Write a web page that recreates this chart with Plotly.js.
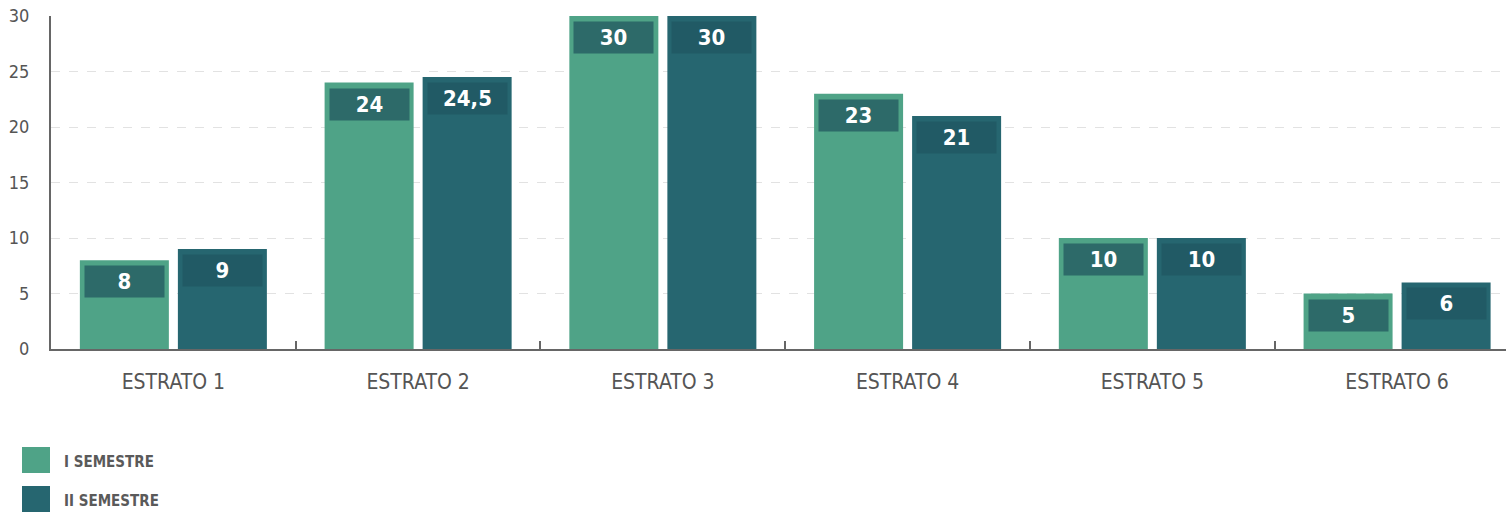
<!DOCTYPE html>
<html>
<head>
<meta charset="utf-8">
<script src="https://cdn.plot.ly/plotly-3.0.1.min.js"></script>
<style>html,body{margin:0;padding:0;background:#fff;}#chart{width:1506px;height:513px;}</style>
</head>
<body>
<div id="chart"></div>
<script>
const categories = ["ESTRATO 1", "ESTRATO 2", "ESTRATO 3", "ESTRATO 4", "ESTRATO 5", "ESTRATO 6"];
const semester1 = [8, 24, 30, 23, 10, 5];
const semester2 = [9, 24.5, 30, 21, 10, 6];
const seriesNames = ["I SEMESTRE", "II SEMESTRE"];
const yTicks = [0, 5, 10, 15, 20, 25, 30];

const FONT = '"DejaVu Sans Condensed", "Liberation Sans Narrow", sans-serif';
const colors = ["#4fa387", "#266670"];
const boxColors = ["#2d6a69", "#215a65"];
const fmt = v => String(v).replace('.', ',');

const traces = [semester1, semester2].map((vals, i) => ({
  type: 'bar', x: categories, y: vals, name: seriesNames[i],
  marker: {color: colors[i]}, showlegend: false, hoverinfo: 'x+y'
}));

const annotations = [];
[semester1, semester2].forEach((vals, i) => {
  vals.forEach((v, j) => {
    annotations.push({
      x: categories[j], y: v, xref: 'x', yref: 'y',
      xshift: i === 0 ? -49 : 49, yshift: -5,
      yanchor: 'top', xanchor: 'center',
      text: '<b>' + fmt(v) + '</b>', showarrow: false,
      bgcolor: boxColors[i], width: 79, height: 31, borderpad: 0,
      font: {family: FONT, size: 22, color: '#ffffff'}
    });
  });
});

// custom legend
const shapes = [];
seriesNames.forEach((n, i) => {
  const top = 447 + i * 39;
  shapes.push({type: 'rect', xref: 'paper', yref: 'paper',
    x0: (22 - 51) / 1455, x1: (50 - 51) / 1455,
    y0: (349 - top) / 333, y1: (349 - top - 26) / 333,
    fillcolor: colors[i], line: {width: 0}});
  annotations.push({xref: 'paper', yref: 'paper',
    x: (62 - 51) / 1455, y: (349 - top - 15) / 333,
    xanchor: 'left', yanchor: 'middle', showarrow: false,
    text: '<b>' + n + '</b>',
    font: {family: FONT, size: 15, color: '#5a5a5a'}});
});

const layout = {
  width: 1506, height: 513,
  margin: {l: 51, r: 0, t: 16, b: 164},
  paper_bgcolor: '#fff', plot_bgcolor: '#fff',
  barmode: 'group', bargap: 0.199, bargroupgap: 0.092,
  font: {family: FONT, color: '#555'},
  xaxis: {
    type: 'category', range: [-0.5, 5.445],
    showline: true, linecolor: '#666', linewidth: 2,
    ticks: 'inside', tickson: 'boundaries', ticklen: 8, tickwidth: 2, tickcolor: '#666',
    ticklabelstandoff: 13,
    tickfont: {family: FONT, size: 21, color: '#555'},
    showgrid: false, fixedrange: true
  },
  yaxis: {
    range: [0, 30], tickvals: yTicks, ticktext: yTicks.map(String),
    showline: true, linecolor: '#666', linewidth: 2,
    ticks: 'outside', ticklen: 16, tickcolor: 'rgba(0,0,0,0)',
    tickfont: {family: FONT, size: 18, color: '#555'},
    showgrid: true, gridcolor: '#e2e2e2', griddash: 'dash', gridwidth: 1,
    zeroline: false, fixedrange: true
  },
  shapes: shapes,
  annotations: annotations
};

Plotly.newPlot('chart', traces, layout, {displayModeBar: false, staticPlot: true});
</script>
</body>
</html>
